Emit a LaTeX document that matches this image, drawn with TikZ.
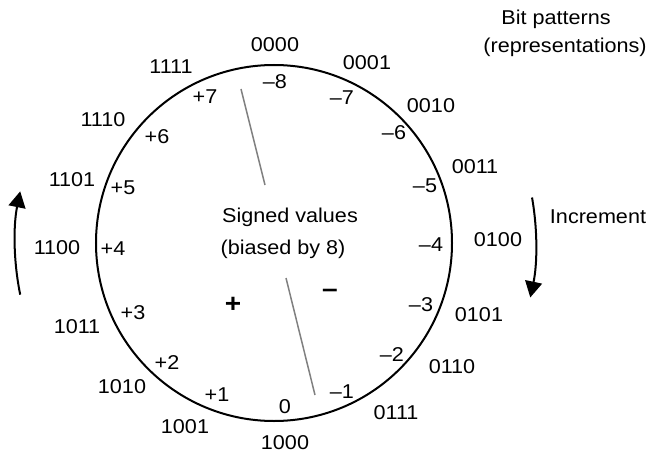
\documentclass[tikz,border=0pt]{standalone}
\usepackage{fontspec}
\setmainfont[FakeStretch=1.08]{Liberation Sans}
\usetikzlibrary{arrows.meta}

\begin{document}
\begin{tikzpicture}[x=0.5pt,y=0.5pt,>={Triangle[length=8pt,width=8.5pt]},line width=1pt]
  \tikzset{lbl/.style={inner sep=0pt,font=\fontsize{10}{11}\selectfont},
    sign/.style={inner sep=0pt,font=\fontsize{13}{13}\selectfont\bfseries}}
  \useasboundingbox (-274,-212) rectangle (378,243);
  \coordinate (c) at (0,0);
  % dial
  \draw (c) circle[radius=178];
  % split line between the two halves
  \draw[gray,line width=0.75pt] (-33,154) -- (-9,58);
  \draw[gray,line width=0.75pt] (12,-35) -- (41,-152);
  % bit patterns round the outside
  \foreach \txt/\x/\y [count=\i] in {0000/1/198,0001/93/180,0010/157/137,0011/201/76,
      0100/224/3,0101/205/-72,0110/178/-124,0111/122/-170,1000/11/-200,1001/-89/-184,
      1010/-152/-144,1011/-197/-84,1100/-217/-5,1101/-202/63,1110/-171/123,1111/-103/176}
  {
    \node[lbl] (b\i) at (\x,\y) {\txt};
  };
  % signed values inside
  \foreach \txt/\x/\y [count=\i] in {\textendash8/1/161,\textendash7/68/145,\textendash6/120/110,
      \textendash5/151/57,\textendash4/157/-2,\textendash3/147/-62,\textendash2/118/-112,
      \textendash1/68/-149,0/11/-164,+1/-57/-152,+2/-107/-120,+3/-141/-70,+4/-161/-6,
      +5/-151/55,+6/-117/106,+7/-69/146}
  {
    \node[lbl] (v\i) at (\x,\y) {\txt};
  };
  \node[lbl] (title) at (16,26) {Signed values};
  \node[lbl] (bias) at (9,-6) {(biased by 8)};
  \node[sign] (plus) at (-41,-62) {+};
  \node[sign] (minus) at (56,-50) {\textendash};
  \node[lbl] (bits) at (282,224) {Bit patterns};
  \node[lbl] (repr) at (291,196) {(representations)};
  \node[lbl] (incr) at (324,26) {Increment};
  % increment arrows
  \draw[->] (191.5:259) arc[start angle=191.5,end angle=168.5,radius=259];
  \draw[->] (10:262) arc[start angle=10,end angle=-12,radius=262];
\end{tikzpicture}
\end{document}
